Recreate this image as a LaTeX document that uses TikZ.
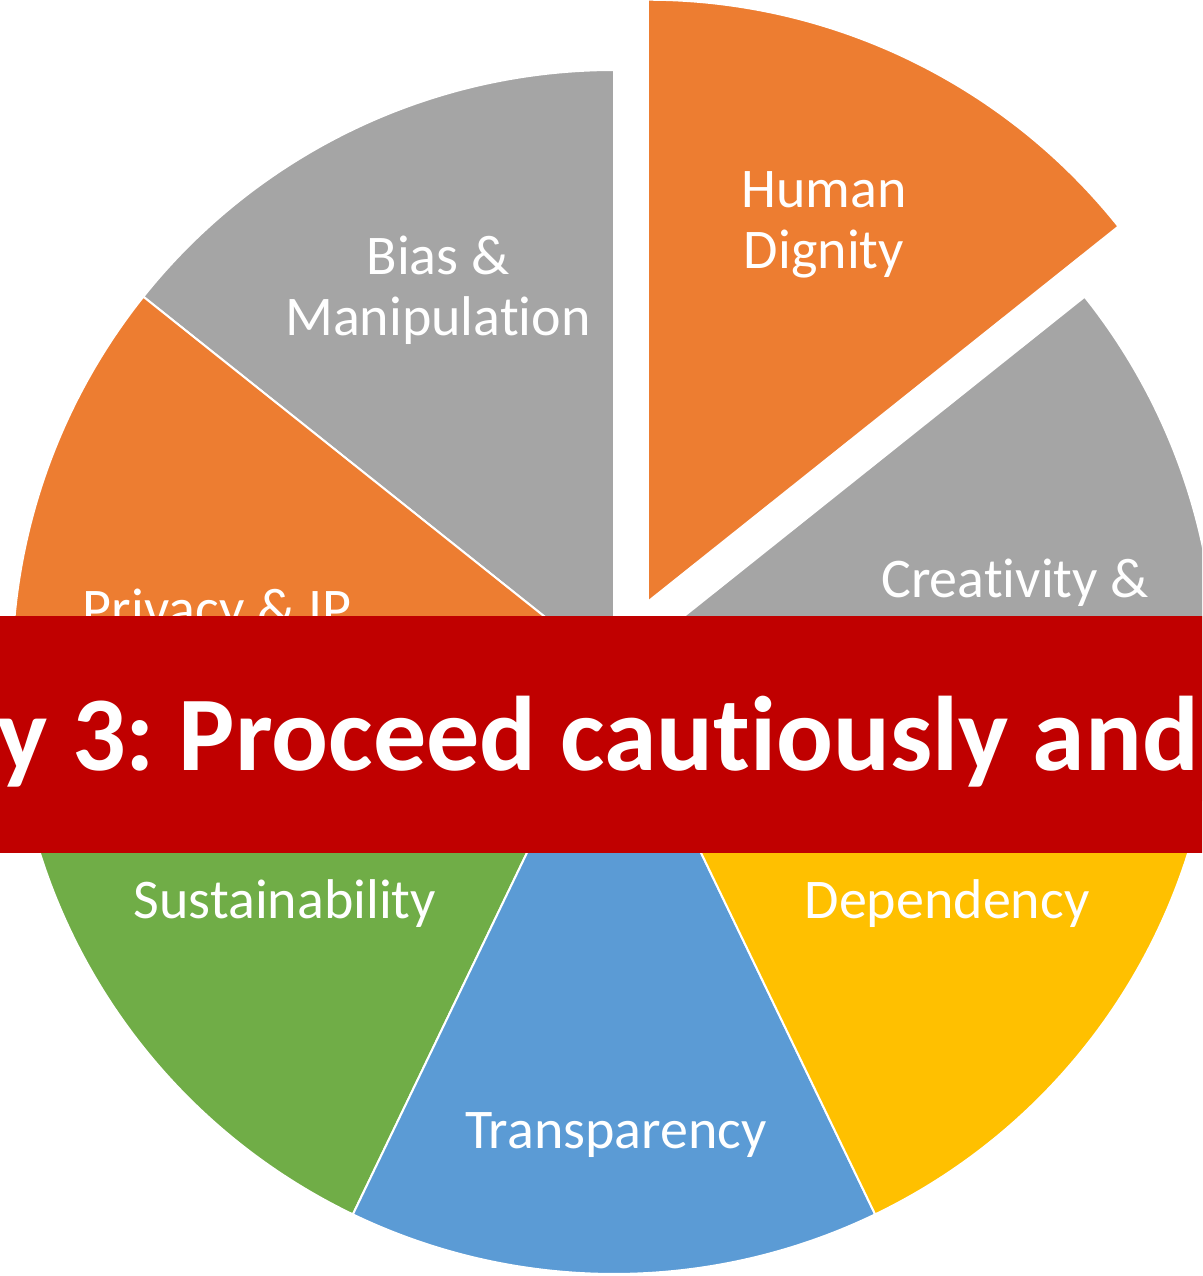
\documentclass[tikz,border=0pt]{standalone}
\usepackage{fontspec}
\setmainfont{Carlito}[RawFeature={-liga;-clig;-calt;-dlig}]
\usetikzlibrary{calc}
\definecolor{pieorange}{HTML}{ED7D31}
\definecolor{piegray}{HTML}{A5A5A5}
\definecolor{pieyellow}{HTML}{FFC000}
\definecolor{pieblue}{HTML}{5B9BD5}
\definecolor{piegreen}{HTML}{70AD47}
\definecolor{bannerred}{HTML}{C00000}
\frenchspacing
\begin{document}
\begin{tikzpicture}[x=1pt, y=1pt]
    \tikzstyle{slice} = [draw=white, line width=2pt, line join=miter]
    \tikzstyle{slicelabel} = [text=white, align=center, anchor=base, inner sep=0pt, font=\fontsize{56}{61}\selectfont]
    \tikzstyle{banner} = [text=white, anchor=base east, inner sep=0pt, font=\bfseries\fontsize{106}{120}\selectfont]

    \useasboundingbox (0,0) rectangle (1202,-1276);
    \clip (0,0) rectangle (1202,-1276);

    % Pie centre
    \coordinate (c) at (614,-672);
    \coordinate (cx) at ($(c)+(64.29:78)$);

    % Slices
    \draw [slice, fill=pieorange] (cx) -- ++(38.57:602) arc (38.57:90:602) -- cycle;
    \draw [slice, fill=piegray] (c) -- ++(90:602) arc (90:141.43:602) -- cycle;
    \draw [slice, fill=pieorange] (c) -- ++(141.43:602) arc (141.43:192.86:602) -- cycle;
    \draw [slice, fill=piegreen] (c) -- ++(192.86:602) arc (192.86:244.29:602) -- cycle;
    \draw [slice, fill=pieblue] (c) -- ++(244.29:602) arc (244.29:295.71:602) -- cycle;
    \draw [slice, fill=pieyellow] (c) -- ++(295.71:602) arc (295.71:347.14:602) -- cycle;
    \draw [slice, fill=piegray] (c) -- ++(347.14:602) arc (347.14:398.57:602) -- cycle;

    % Slice labels (base = last line)
    \node [slicelabel] (dignity) at (824,-268) {Human\\Dignity};
    \node [slicelabel] (bias) at (438,-335) {Bias \&\\Manipulation};
    \node [slicelabel] (creativity) at (1015,-597) {Creativity \&};
    \node [slicelabel] (privacy) at (217,-627) {Privacy \& IP};
    \node [slicelabel] (sustain) at (285,-918) {Sustainability};
    \node [slicelabel] (depend) at (947,-918) {Dependency};
    \node [slicelabel] (transp) at (616,-1148) {Transparency};

    % Banner across the middle
    \fill [bannerred] (-10,-616) rectangle (1212,-853);
    \node [banner] (strategy) at (1199,-770) {y 3: Proceed cautiously and};
\end{tikzpicture}
\end{document}
